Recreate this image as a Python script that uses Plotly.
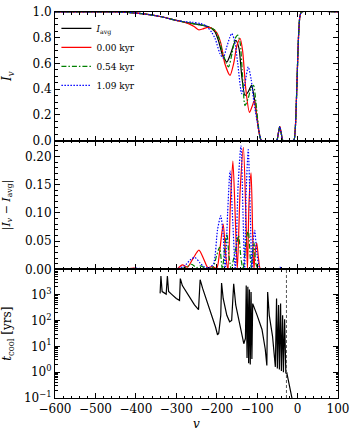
import plotly.graph_objects as go
from plotly.subplots import make_subplots

# ---------------- Panel 1: I_v vs v ----------------
V_AVG = [-600, -450, -420, -380, -340, -300, -270, -240, -220, -205, -196, -185, -175, -165, -153,
         -145, -138, -130, -122, -114, -107, -100, -95, -89, -52, -48, -44, -40, -36, -10, -6, -3, 0, 3, 6, 10, 100]
I_AVG = [1.0, 1.0, 0.997, 0.985, 0.965, 0.935, 0.915, 0.9, 0.885, 0.85, 0.78, 0.66, 0.612, 0.68, 0.78,
         0.72, 0.5, 0.352, 0.38, 0.43, 0.33, 0.17, 0.06, 0.0, 0.0, 0.05, 0.11, 0.05, 0.0, 0.0, 0.08, 0.3, 0.6, 0.85, 0.97, 1.0, 1.0]

V_T0 = [-600, -450, -420, -380, -340, -300, -270, -255, -245, -235, -222, -210, -200, -190, -180, -167, -158,
        -150, -142, -136, -128, -119, -112, -107, -102, -96, -89, -52, -48, -44, -40, -36, -10, -6, -3, 0, 3, 6, 10, 100]
I_T0 = [1.0, 1.0, 0.997, 0.985, 0.965, 0.935, 0.91, 0.885, 0.862, 0.868, 0.88, 0.87, 0.84, 0.76, 0.6, 0.508, 0.6,
        0.74, 0.794, 0.7, 0.4, 0.22, 0.27, 0.312, 0.22, 0.08, 0.0, 0.0, 0.05, 0.11, 0.05, 0.0, 0.0, 0.08, 0.3, 0.6, 0.85, 0.97, 1.0, 1.0]

V_T1 = [-600, -450, -420, -380, -340, -300, -270, -240, -220, -205, -195, -185, -171, -162, -155, -148, -142,
        -137, -130, -122, -115, -109, -103, -97, -89, -52, -48, -44, -40, -36, -10, -6, -3, 0, 3, 6, 10, 100]
I_T1 = [1.0, 1.0, 0.997, 0.985, 0.965, 0.935, 0.915, 0.9, 0.885, 0.86, 0.8, 0.68, 0.573, 0.68, 0.79, 0.82, 0.76,
        0.55, 0.273, 0.33, 0.41, 0.43, 0.3, 0.12, 0.0, 0.0, 0.05, 0.11, 0.05, 0.0, 0.0, 0.08, 0.3, 0.6, 0.85, 0.97, 1.0, 1.0]

V_T2 = [-600, -450, -420, -380, -340, -300, -280, -260, -240, -225, -212, -204, -192, -184, -176, -168, -163,
        -156, -148, -138, -130, -122, -115, -108, -100, -94, -89, -52, -48, -44, -40, -36, -10, -6, -3, 0, 3, 6, 10, 100]
I_T2 = [1.0, 1.0, 0.997, 0.985, 0.965, 0.935, 0.925, 0.92, 0.91, 0.89, 0.84, 0.794, 0.677, 0.643, 0.72, 0.8, 0.833,
        0.78, 0.6, 0.365, 0.45, 0.573, 0.48, 0.3, 0.15, 0.05, 0.0, 0.0, 0.05, 0.11, 0.05, 0.0, 0.0, 0.08, 0.3, 0.6, 0.85, 0.97, 1.0, 1.0]

# ---------------- Panel 2: |I_v - I_avg| ----------------
V_D0 = [-600, -430, -405, -385, -300, -285, -272, -258, -244, -232, -222, -212, -200, -193, -184, -177, -172,
        -166, -160, -154, -149, -142, -134, -128, -124, -120, -115, -111, -108, -105, -101, -96, -91, 100]
D_T0 = [0, 0, 0.002, 0, 0, 0.008, 0.004, 0.02, 0.034, 0.018, 0.003, 0.005, 0.002, 0.03, 0.08, 0.02, 0.0,
        0.12, 0.192, 0.09, 0.0, 0.14, 0.216, 0.1, 0.0, 0.12, 0.171, 0.06, 0.0, 0.03, 0.047, 0.015, 0, 0]

V_D1 = [-600, -300, -275, -262, -250, -240, -228, -210, -200, -193, -186, -180, -175, -169, -164, -158, -152,
        -146, -140, -135, -128, -122, -117, -114, -111, -108, -103, -96, 100]
D_T1 = [0, 0, 0.004, 0.009, 0.003, 0.006, 0.002, 0.003, 0.025, 0.039, 0.0, 0.04, 0.063, 0.02, 0.0, 0.02, 0.04,
        0.06, 0.02, 0.0, 0.045, 0.07, 0.02, 0.0, 0.03, 0.048, 0.01, 0.0, 0]

V_D2 = [-600, -420, -400, -380, -300, -280, -265, -254, -242, -232, -220, -208, -198, -190, -184, -179, -173,
        -167, -160, -154, -147, -140, -135, -131, -127, -122, -117, -113, -110, -106, -101, -95, -90, -50, -44, -38, 100]
D_T2 = [0, 0, 0.002, 0.001, 0.001, 0.006, 0.017, 0.021, 0.012, 0.005, 0.002, 0.01, 0.07, 0.095, 0.06, 0.0, 0.1,
        0.174, 0.08, 0.0, 0.15, 0.219, 0.1, 0.0, 0.14, 0.212, 0.1, 0.0, 0.05, 0.069, 0.03, 0.005, 0, 0, 0.004, 0, 0]

# ---------------- Panel 3: t_cool ----------------
V_COOL = [-340, -338, -335, -330, -325, -322, -319, -312, -300, -292, -290, -285, -270, -255, -245, -241, -235,
          -220, -210, -203, -198, -195, -190, -188, -184, -175, -168, -163, -158, -153, -145, -138, -133, -129,
          -127, -125, -123, -121, -119, -117, -115, -113, -111, -100, -88, -80, -76, -74, -70, -62, -55, -52,
          -50, -47, -45, -42, -40, -37, -35, -32, -29, -27, -25, -20, -15, -10]
T_COOL = [1120, 5250, 1320, 1200, 1050, 5250, 1320, 1050, 710, 600, 4170, 2240, 890, 400, 263, 3800, 1780,
          355, 141, 56, 28, 32, 158, 2820, 710, 158, 89, 100, 2630, 400, 100, 32, 12.6, 20,
          2240, 3.5, 2000, 2.2, 1580, 2.0, 1260, 3.2, 450, 158, 45, 7.9, 1.8, 1260, 158, 25, 1.6, 710,
          1.4, 400, 1.26, 450, 1.12, 158, 1.0, 112, 0.89, 1.0, 0.71, 0.28, 0.11, 0.05]
V_MARK = -27.5

LABELS = ["<i>I</i><sub>avg</sub>", "0.00 kyr", "0.54 kyr", "1.09 kyr"]
COLORS = ["black", "#ff0000", "#008000", "#0000ff"]
DASHES = ["solid", "solid", "5px,2px,1.5px,2px", "1.5px,1.5px"]

FONT = "DejaVu Serif"
TICKFONT = dict(family=FONT, size=12, color="black")
fig = make_subplots(rows=3, cols=1, shared_xaxes=True, vertical_spacing=0)

for v, i, lab, c, d in zip([V_AVG, V_T0, V_T1, V_T2], [I_AVG, I_T0, I_T1, I_T2], LABELS, COLORS, DASHES):
    fig.add_trace(go.Scatter(x=v, y=i, mode="lines", name=lab,
                             line=dict(color=c, dash=d, width=1.2, shape="spline", smoothing=0.7)),
                  row=1, col=1)

fig.add_trace(go.Scatter(x=[-600, 100], y=[0, 0], mode="lines", showlegend=False,
                         line=dict(color="black", width=1.2)), row=2, col=1)
for v, dd, c, d in zip([V_D0, V_D1, V_D2], [D_T0, D_T1, D_T2], COLORS[1:], DASHES[1:]):
    fig.add_trace(go.Scatter(x=v, y=dd, mode="lines", showlegend=False,
                             line=dict(color=c, dash=d, width=1.2, shape="spline", smoothing=0.7)),
                  row=2, col=1)

fig.add_trace(go.Scatter(x=V_COOL, y=T_COOL, mode="lines", showlegend=False,
                         line=dict(color="black", width=1.2)), row=3, col=1)
fig.add_vline(x=V_MARK, line=dict(color="#555555", dash="3px,2px", width=1), row=3, col=1)

axis_common = dict(ticks="inside", ticklen=5, tickwidth=1, tickcolor="black", showline=True,
                   linecolor="black", linewidth=1, mirror="allticks", showgrid=False, zeroline=False,
                   tickfont=TICKFONT, automargin=False)
for r in (1, 2, 3):
    fig.update_xaxes(range=[-600, 100], dtick=100, tick0=-600,
                     minor=dict(ticks="inside", ticklen=2.5, dtick=20, tickcolor="black", showgrid=False),
                     row=r, col=1, **axis_common)
fig.update_xaxes(title=dict(text="<i>v</i>", font=dict(family=FONT, size=12, color="black"), standoff=4),
                 row=3, col=1)

fig.update_yaxes(range=[0, 1], dtick=0.2, tickformat=".1f",
                 minor=dict(ticks="inside", ticklen=2.5, dtick=0.05, tickcolor="black", showgrid=False),
                 title=dict(text="<i>I</i><sub><i>v</i></sub>", font=dict(family=FONT, size=12, color="black"),
                            standoff=28),
                 row=1, col=1, **axis_common)
fig.update_yaxes(range=[0, 0.228], dtick=0.05, tickformat=".2f",
                 minor=dict(ticks="inside", ticklen=2.5, dtick=0.01, tickcolor="black", showgrid=False),
                 title=dict(text="|<i>I</i><sub><i>v</i></sub> − <i>I</i><sub>avg</sub>|",
                            font=dict(family=FONT, size=11, color="black")),
                 row=2, col=1, **axis_common)
minor_log = [m * 10 ** e for e in (-1, 0, 1, 2, 3) for m in range(2, 10)]
fig.update_yaxes(type="log", range=[-1, 3.98],
                 tickvals=[0.1, 1, 10, 100, 1000],
                 ticktext=["10<sup>−1</sup>", "10<sup>0</sup>", "10<sup>1</sup>", "10<sup>2</sup>", "10<sup>3</sup>"],
                 minor=dict(ticks="inside", ticklen=2.5, tickvals=minor_log, tickcolor="black", showgrid=False),
                 title=dict(text="<i>t</i><sub>cool</sub> [yrs]", font=dict(family=FONT, size=12, color="black")),
                 row=3, col=1, **axis_common)

fig.update_layout(
    width=357, height=436,
    margin=dict(l=55, r=19, t=12, b=38),
    paper_bgcolor="white", plot_bgcolor="white",
    font=dict(family=FONT, size=11, color="black"),
    legend=dict(x=0.005, y=0.995, xanchor="left", yanchor="top", bgcolor="rgba(0,0,0,0)",
                font=dict(family=FONT, size=9, color="black"), tracegroupgap=0),
    showlegend=True,
)

fig.write_html("out.html", config={"displayModeBar": False},
               post_script="document.body.style.margin='0px';")
